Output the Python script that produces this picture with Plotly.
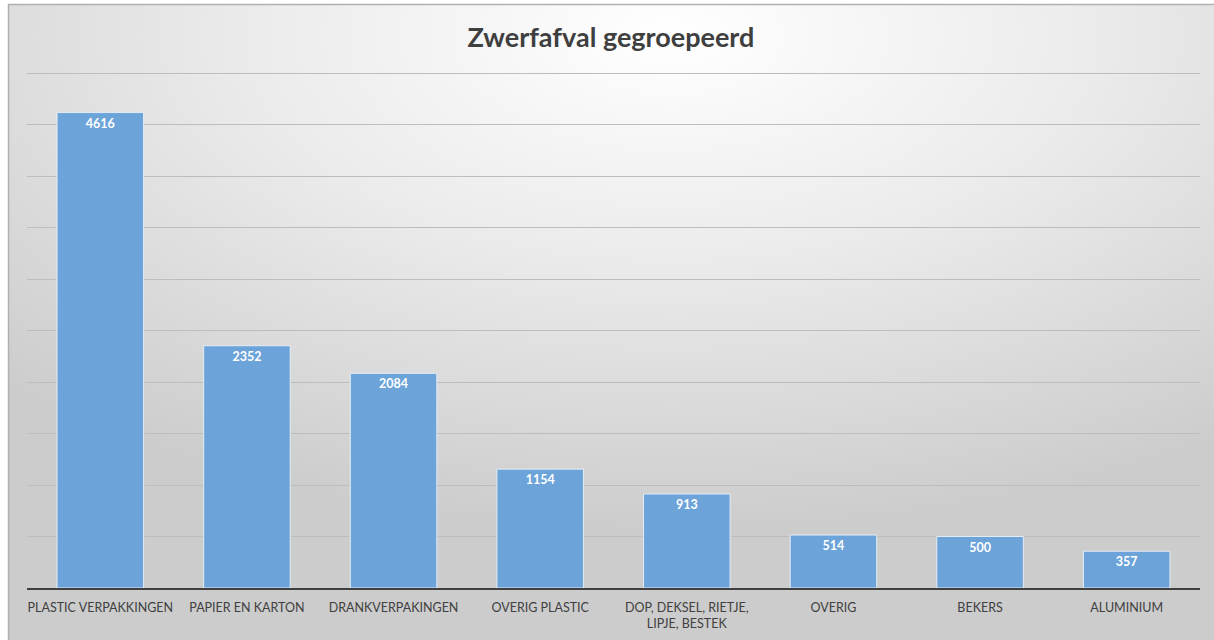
import base64
import plotly.graph_objects as go

categories = [
    "PLASTIC VERPAKKINGEN",
    "PAPIER EN KARTON",
    "DRANKVERPAKINGEN",
    "OVERIG PLASTIC",
    "DOP, DEKSEL, RIETJE,<br>LIPJE, BESTEK",
    "OVERIG",
    "BEKERS",
    "ALUMINIUM",
]
values = [4616, 2352, 2084, 1154, 913, 514, 500, 357]
title_text = "Zwerfafval gegroepeerd"

W, H = 1214, 640
ML, MR, MT, MB = 27, 14, 72, 52
PW, PH = W - ML - MR, H - MT - MB

svg = (
    '<svg xmlns="http://www.w3.org/2000/svg" width="1214" height="640" viewBox="0 0 1214 640" preserveAspectRatio="none">'
    '<defs><radialGradient id="g" cx="55%" cy="5%" r="78%" gradientUnits="objectBoundingBox">'
    '<stop offset="0" stop-color="#ffffff"/>'
    '<stop offset="0.45" stop-color="#ebebeb"/>'
    '<stop offset="1" stop-color="#cccccc"/>'
    '</radialGradient></defs>'
    '<rect x="0" y="0" width="1214" height="640" fill="#ffffff"/>'
    '<rect x="8" y="4" width="1206" height="636" fill="url(#g)"/>'
    '<line x1="8" y1="4.5" x2="1214" y2="4.5" stroke="#b0b0b0" stroke-width="1.5"/>'
    '<line x1="8.5" y1="4" x2="8.5" y2="640" stroke="#b0b0b0" stroke-width="1.5"/>'
    '</svg>'
)
src = "data:image/svg+xml;base64," + base64.b64encode(svg.encode()).decode()

fig = go.Figure(
    go.Bar(
        x=categories,
        y=values,
        text=[str(v) for v in values],
        textposition="inside",
        insidetextanchor="end",
        textfont=dict(family="Lato, Open Sans, sans-serif", size=12.5, color="white", weight="bold"),
        marker=dict(color="#6ca3d8", line=dict(color="rgba(235,242,250,0.9)", width=1)),
        hoverinfo="skip",
    )
)

fig.update_layout(
    width=W,
    height=H,
    margin=dict(l=ML, r=MR, t=MT, b=MB, autoexpand=False),
    paper_bgcolor="white",
    plot_bgcolor="rgba(0,0,0,0)",
    bargap=0.41,
    showlegend=False,
    title=dict(
        text="<b>" + title_text + "</b>",
        x=611 / W,
        xanchor="center",
        y=1 - 38 / H,
        yanchor="middle",
        font=dict(family="Lato, Open Sans, sans-serif", size=27, color="#3f3f3f"),
    ),
    images=[
        dict(
            source=src,
            xref="paper",
            yref="paper",
            x=-ML / PW,
            y=1 + MT / PH,
            sizex=W / PW,
            sizey=H / PH,
            xanchor="left",
            yanchor="top",
            sizing="stretch",
            layer="below",
        )
    ],
    xaxis=dict(
        showgrid=False,
        showline=True,
        linecolor="#404040",
        linewidth=2,
        ticks="",
        ticklabelstandoff=7,
        tickfont=dict(family="Lato, Open Sans, sans-serif", size=12.5, color="#404040"),
    ),
    yaxis=dict(
        range=[0, 5010],
        tickvals=[500, 1000, 1500, 2000, 2500, 3000, 3500, 4000, 4500, 5000],
        showgrid=True,
        gridcolor="#bdbdbd",
        gridwidth=1,
        showticklabels=False,
        zeroline=False,
        showline=False,
    ),
)

fig.write_html(
    "out.html",
    config={"displayModeBar": False},
    post_script="document.body.style.margin='0';document.body.style.overflow='hidden';",
)
